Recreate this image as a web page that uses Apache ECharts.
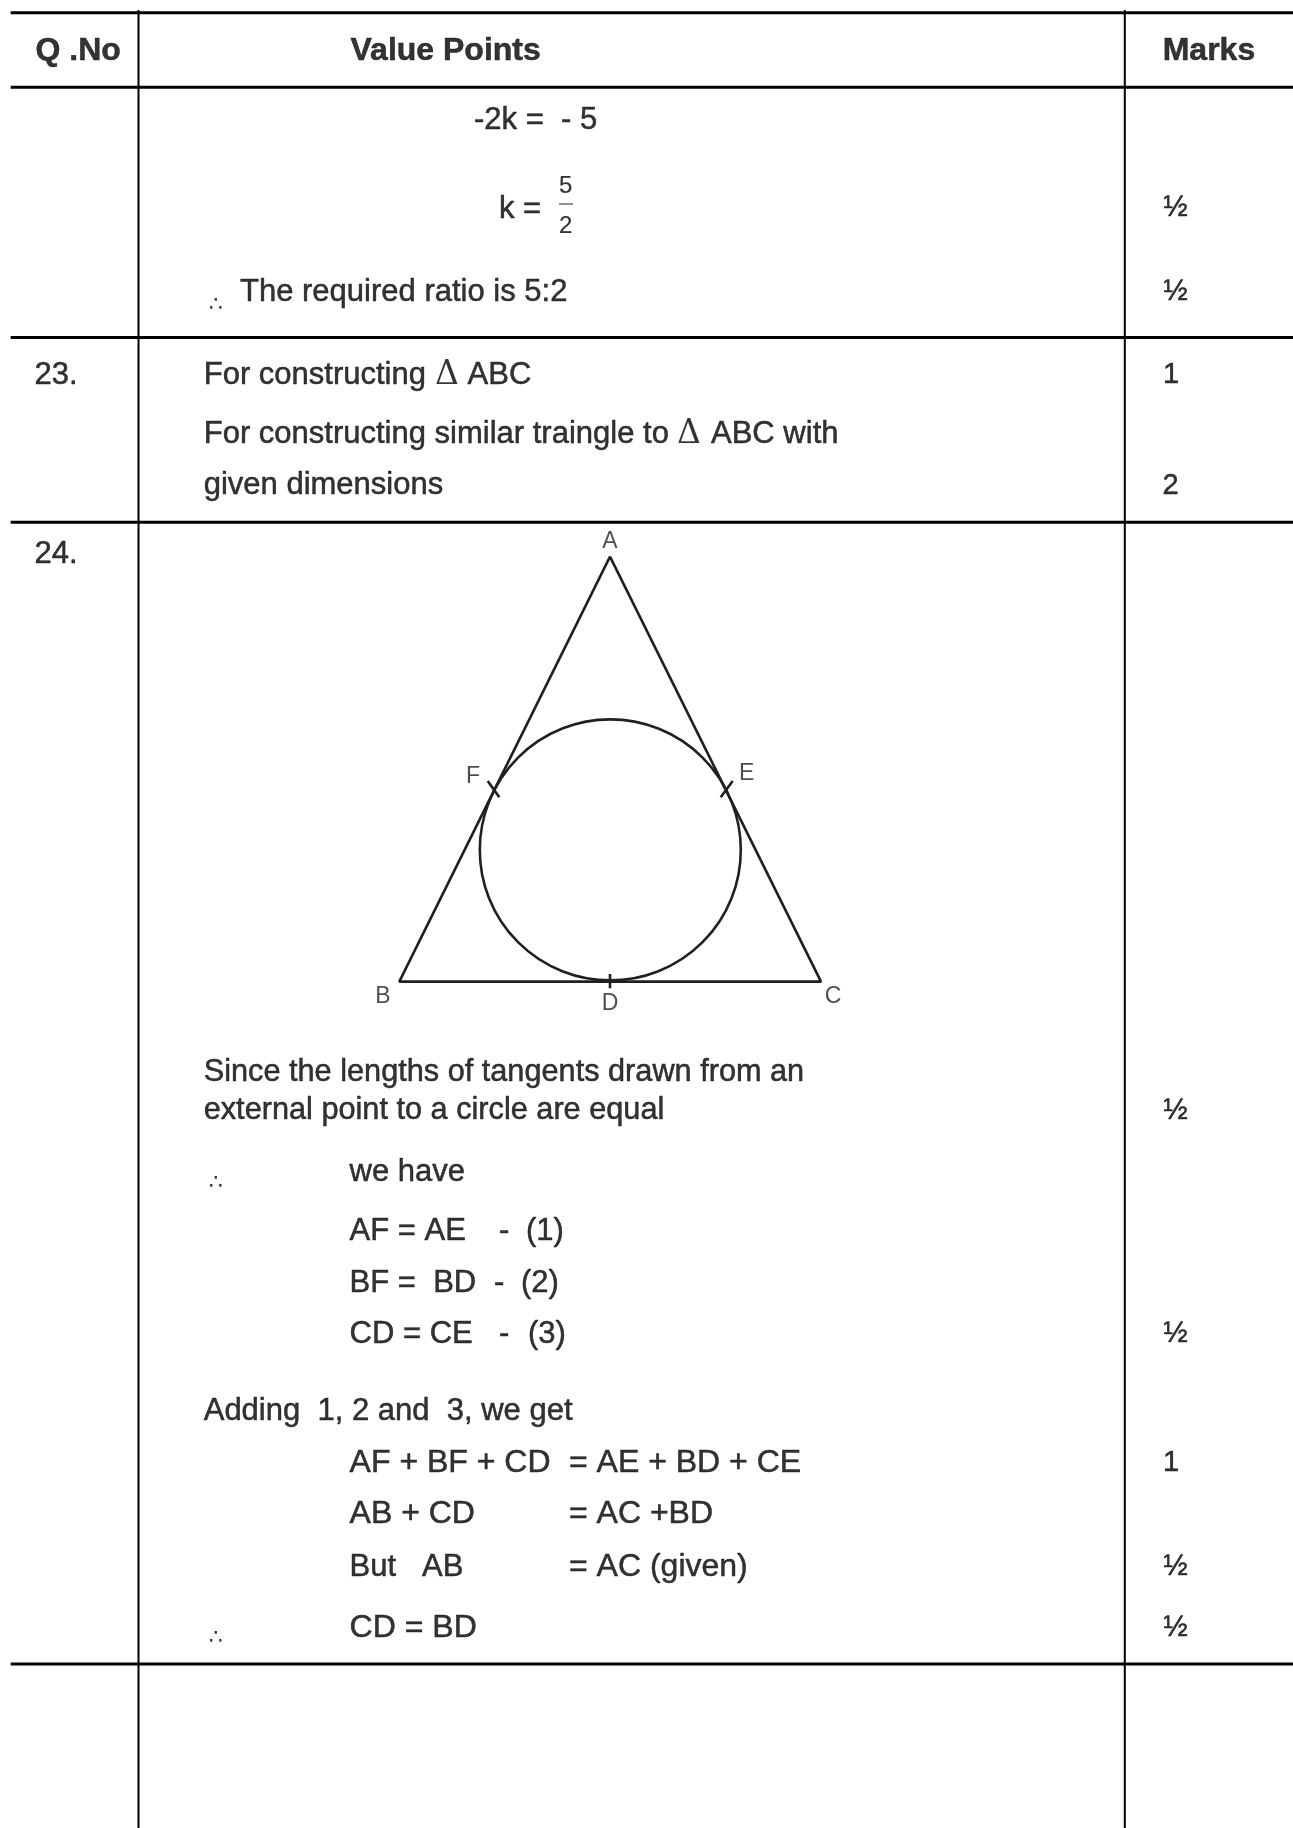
<!DOCTYPE html>
<html><head><meta charset="utf-8">
<style>html,body{margin:0;padding:0;background:#fff}#c{width:1293px;height:1828px}</style>
<script src="https://cdn.jsdelivr.net/npm/echarts@6/dist/echarts.min.js"></script>
</head><body><div id="c"></div>
<script>
const ruleRows=[12.8,87.2,337.4,522.3,1664];
const ruleCols=[138.5,1124.8];
const triangle=[[610,556.7],[399.3,981.6],[821,981.6],[610,556.7]];
const tickMarks=[[[487.7,781],[499.3,797.3]],[[732.7,781],[720.7,797.3]],[[610,974],[610,988.3]]];
const circleCentre=[[610.3,849.9]];
const fractionBar=[[559,204],[573,204]];
const headers=[[35.5,50.9,'Q .No'],[350.5,50.9,'Value Points'],[1162.7,50.9,'Marks']];
const bodyText=[
[474,120,'-2k =  - 5'],[499,209,'k ='],[240,292.5,'The required ratio is 5:2'],
[34.6,375,'23.'],[203.7,375,'For constructing'],[467.6,375,'ABC'],
[203.7,434,'For constructing similar traingle to'],[711,434,'ABC with'],
[203.7,485.5,'given dimensions'],[34.6,554.5,'24.'],
[349.6,1172.7,'we have'],
[349.6,1231,'AF = AE'],[499,1231,'-'],[526,1231,'(1)'],
[349.6,1283,'BF =  BD'],[494,1283,'-'],[521,1283,'(2)'],
[349.6,1334,'CD = CE'],[499,1334,'-'],[528,1334,'(3)'],
[203.7,1411,'Adding  1, 2 and  3, we get'],
[349.6,1567,'But   AB']];
const paragraphText=[
[203.7,1072.7,'Since the lengths of tangents drawn from an'],
[203.7,1111,'external point to a circle are equal']];
const equationText=[
[349.6,1463,'AF + BF + CD'],[569,1463,'= AE + BD + CE'],
[349.6,1514.5,'AB + CD'],[569,1514.5,'= AC +BD'],
[569,1567,'= AC (given)'],
[349.6,1628,'CD = BD']];
const marks=[[1163.5,208,'½'],[1163.5,292,'½'],[1163,375,'1'],[1162.5,485.5,'2'],[1163.5,1111,'½'],[1163.5,1334,'½'],[1163,1463,'1'],[1163.5,1567,'½'],[1163.5,1628,'½']];
const fractionDigits=[[559,186,'5'],[559,226,'2']];
const deltas=[[435,375,'Δ'],[677,434,'Δ']];
const therefore=[[209,305,'∴'],[209,1183,'∴'],[209,1638,'∴']];
const pointLabels=[[610,541.7,'A'],[383,997,'B'],[833,997,'C'],[610,1004,'D'],[746.7,774,'E'],[473,777,'F']];

const seg=(data,color,width)=>({type:'line',data,showSymbol:false,silent:true,animation:false,lineStyle:{color,width,cap:'butt'},z:2});
const txt=(data,opt,align)=>({type:'scatter',data,symbolSize:0,silent:true,animation:false,z:5,
  label:{show:true,position:align==='center'?'inside':'right',distance:0,formatter:p=>p.value[2],
  align:align||'left',verticalAlign:'middle',color:'#000',textBorderColor:'#000',textBorderWidth:0.5,fontFamily:'Liberation Sans',...opt}});
const series=[];
ruleRows.forEach(y=>series.push(seg([[10.7,y],[1293,y]],'#000',3)));
ruleCols.forEach(x=>series.push(seg([[x,10],[x,1828]],'#000',2)));
series.push(seg(triangle,'#231f20',2.6));
tickMarks.forEach(t=>series.push(seg(t,'#231f20',2.6)));
series.push(seg(fractionBar,'#222',1));
series.push({type:'scatter',data:circleCentre,symbol:'circle',symbolSize:261,silent:true,animation:false,z:3,
  itemStyle:{color:'transparent',borderColor:'#231f20',borderWidth:2.6,opacity:1}});
series.push(txt(headers,{fontSize:32,fontWeight:'bold'}));
series.push(txt(bodyText,{fontSize:31}));
series.push(txt(paragraphText,{fontSize:30.7}));
series.push(txt(equationText,{fontSize:32}));
series.push(txt(marks,{fontSize:29}));
series.push(txt(fractionDigits,{fontSize:24,textBorderWidth:0.2}));
series.push(txt(deltas,{fontSize:33,fontFamily:'DejaVu Serif',textBorderWidth:0}));
series.push(txt(therefore,{fontSize:22,fontFamily:'DejaVu Sans',textBorderWidth:0}));
series.push(txt(pointLabels,{fontSize:23,color:'#231f20',textBorderWidth:0},'center'));

const chart=echarts.init(document.getElementById('c'),null,{renderer:'canvas'});
chart.setOption({animation:false,backgroundColor:'#fff',
  grid:{left:0,right:0,top:0,bottom:0},
  xAxis:{type:'value',min:0,max:1293,show:false},
  yAxis:{type:'value',min:0,max:1828,inverse:true,show:false},
  series});
</script></body></html>
